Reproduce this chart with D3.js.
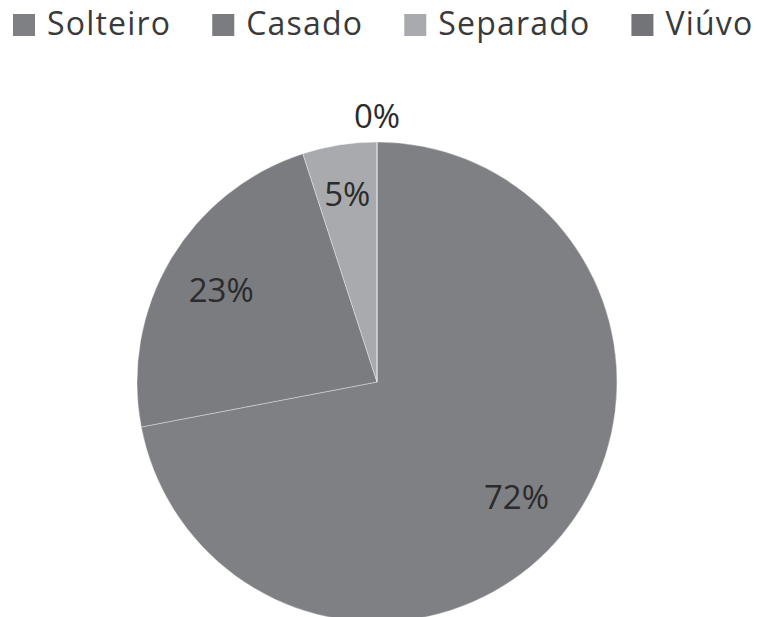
<!DOCTYPE html>
<html>
<head>
<meta charset="utf-8">
<script src="https://cdn.jsdelivr.net/npm/d3@7"></script>
<style>
  html, body { margin: 0; padding: 0; background: #fff; }
  svg { display: block; }
</style>
</head>
<body>
<svg id="chart" width="757" height="617"></svg>
<script>
const categories = ["Solteiro", "Casado", "Separado", "Viúvo"];
const values = [72, 23, 5, 0];
const labels = ["72%", "23%", "5%", "0%"];
const colors = ["#7f8084", "#7b7c80", "#a9aaad", "#737478"];

const svg = d3.select("#chart");
const cx = 377, cy = 382, R = 240;
const font = "'Open Sans', 'Noto Sans', sans-serif";

const data = categories.map((c, i) => ({ cat: c, value: values[i], label: labels[i], color: colors[i] }));

const pie = d3.pie().value(d => d.value).sort(null);
const arcs = pie(data);
const arc = d3.arc().innerRadius(0).outerRadius(R);

const g = svg.append("g").attr("transform", `translate(${cx},${cy})`);

g.selectAll("path.slice")
  .data(arcs)
  .join("path")
  .attr("class", "slice")
  .attr("d", arc)
  .attr("fill", d => d.data.color)
  .attr("stroke", "rgba(255,255,255,0.35)")
  .attr("stroke-width", 1);

g.selectAll("text.lbl")
  .data(arcs)
  .join("text")
  .attr("class", "lbl")
  .attr("transform", d => {
    const a = (d.startAngle + d.endAngle) / 2;
    const r = d.data.value === 0 ? 266 : (d.data.value < 10 ? 190 : 181);
    return `translate(${Math.sin(a) * r},${-Math.cos(a) * r})`;
  })
  .attr("text-anchor", "middle")
  .attr("dy", "0.36em")
  .attr("font-family", font)
  .attr("font-size", 33)
  .attr("fill", "#2b2b2b")
  .text(d => d.data.label);

// Legend
const legend = svg.append("g");
let x = 13;
data.forEach(d => {
  legend.append("rect")
    .attr("x", x).attr("y", 14).attr("width", 22).attr("height", 22)
    .attr("fill", d.color);
  const t = legend.append("text")
    .attr("x", x + 34).attr("y", 35)
    .attr("font-family", font)
    .attr("font-size", 32)
    .attr("letter-spacing", "1.2px")
    .attr("fill", "#3a3a3a")
    .text(d.cat);
  const w = t.node().getComputedTextLength();
  x += 34 + w + 41;
});
</script>
</body>
</html>
